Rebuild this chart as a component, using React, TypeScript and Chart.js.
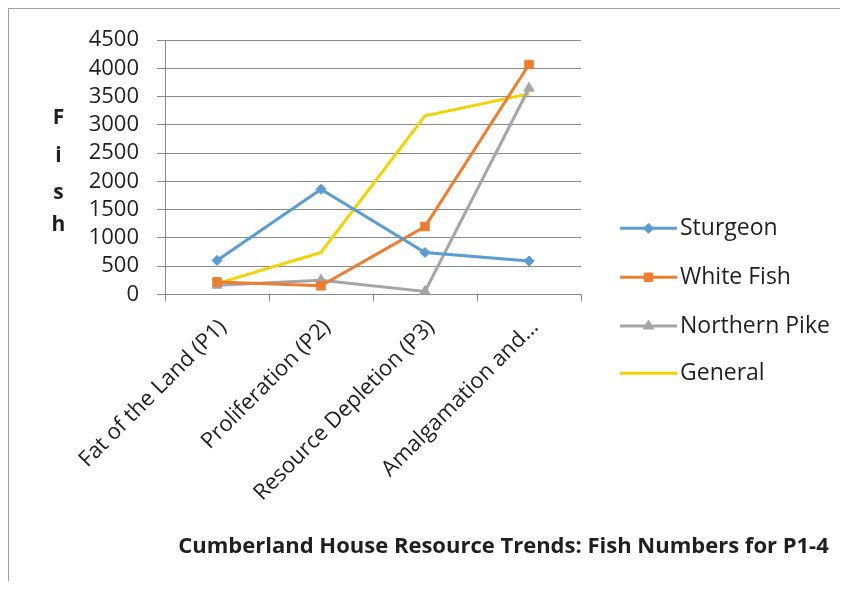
import React, { useEffect, useRef } from "react";
import { Chart, registerables } from "chart.js";
import { drawPoint } from "chart.js/helpers";

Chart.register(...registerables);

const categories = [
  "Fat of the Land (P1)",
  "Proliferation (P2)",
  "Resource Depletion (P3)",
  "Amalgamation and...",
];
const sturgeon = [600, 1860, 740, 590];
const whiteFish = [220, 150, 1200, 4070];
const northernPike = [160, 250, 50, 3650];
const general = [190, 740, 3160, 3550];
const seriesNames = ["Sturgeon", "White Fish", "Northern Pike", "General"];
const yTitleLetters = ["F", "i", "s", "h"];
const chartTitle = "Cumberland House Resource Trends: Fish Numbers for P1-4";
const yMin = 0;
const yMax = 4500;
const yStep = 500;

const FONT = "'Open Sans', sans-serif";
const TEXT = "#1f1f1f";
const GRID = "#8a8a8a";
const colors = ["#5B9BD5", "#ED7D31", "#A5A5A5", "#F2D200"];
const pointStyles: any[] = ["rectRot", "rect", "triangle", false];
const pointRadii = [5, 6, 6, 0];

const overlayPlugin = {
  id: "overlay",
  afterDraw(chart: any) {
    const ctx = chart.ctx;
    const area = chart.chartArea;
    ctx.save();
    // vertical stacked y-axis title
    ctx.fillStyle = TEXT;
    ctx.font = `bold 21px ${FONT}`;
    ctx.textAlign = "center";
    ctx.textBaseline = "alphabetic";
    const letterOffsets = [84, 121.6, 159, 190.6];
    yTitleLetters.forEach((ch, i) => {
      ctx.fillText(ch, 49.5, area.top + letterOffsets[i]);
    });

    // legend
    const x0 = area.right + 39;
    const x1 = x0 + 57;
    const ys = [219.3, 268.3, 317, 364.3];
    chart.data.datasets.forEach((ds: any, i: number) => {
      const y = ys[i];
      ctx.strokeStyle = ds.borderColor;
      ctx.lineWidth = 3;
      ctx.beginPath();
      ctx.moveTo(x0, y);
      ctx.lineTo(x1, y);
      ctx.stroke();
      if (ds.pointStyle) {
        ctx.fillStyle = ds.borderColor;
        ctx.strokeStyle = ds.borderColor;
        ctx.lineWidth = 1;
        drawPoint(
          ctx,
          { pointStyle: ds.pointStyle, radius: ds.pointRadius, borderWidth: 1, rotation: 0 } as any,
          (x0 + x1) / 2,
          y
        );
      }
      ctx.fillStyle = TEXT;
      ctx.font = `23px ${FONT}`;
      ctx.textAlign = "left";
      ctx.textBaseline = "middle";
      ctx.fillText(ds.label, x1 + 3, y);
    });

    // chart title
    ctx.fillStyle = TEXT;
    ctx.font = `bold 22px ${FONT}`;
    ctx.textAlign = "center";
    ctx.textBaseline = "alphabetic";
    ctx.fillText(chartTitle, 494.5, 544.3);
    ctx.restore();
  },
};

export default function App() {
  const ref = useRef<HTMLCanvasElement | null>(null);
  useEffect(() => {
    if (!ref.current) return;
    const seriesData = [sturgeon, whiteFish, northernPike, general];
    const chart = new Chart(ref.current, {
      type: "line",
      data: {
        labels: categories,
        datasets: seriesData.map((d, i) => ({
          label: seriesNames[i],
          data: d,
          borderColor: colors[i],
          backgroundColor: colors[i],
          borderWidth: 3,
          tension: 0,
          pointStyle: pointStyles[i],
          pointRadius: pointRadii[i],
          pointBorderWidth: 1,
          pointBackgroundColor: colors[i],
          pointBorderColor: colors[i],
        })),
      },
      options: {
        responsive: false,
        animation: false,
        devicePixelRatio: 1,
        layout: { padding: { left: 0, top: 28.7, right: 267, bottom: 23.7 } },
        plugins: {
          legend: { display: false },
          title: { display: false },
          tooltip: { enabled: false },
        },
        scales: {
          x: {
            type: "category",
            offset: true,
            grid: {
              offset: true,
              drawOnChartArea: false,
              drawTicks: true,
              tickLength: 7,
              color: GRID,
            },
            border: { color: GRID, width: 1 },
            ticks: {
              autoSkip: false,
              minRotation: 45,
              maxRotation: 45,
              font: { family: FONT, size: 22 },
              color: TEXT,
              padding: 13,
              labelOffset: 6,
            },
            afterFit: (s: any) => {
              s.height = 270;
            },
          },
          y: {
            min: yMin,
            max: yMax,
            ticks: {
              stepSize: yStep,
              autoSkip: false,
              font: { family: FONT, size: 22 },
              color: TEXT,
              padding: 18,
              callback: (v: any) => String(v),
            },
            grid: { color: GRID, tickLength: 8 },
            border: { color: GRID, width: 1 },
            afterFit: (s: any) => {
              s.width = 156;
            },
          },
        },
      },
      plugins: [overlayPlugin],
    });
    return () => chart.destroy();
  }, []);

  return (
    <div
      style={{
        width: 840,
        height: 581,
        boxSizing: "border-box",
        borderLeft: "1px solid #a0a0a0",
        borderTop: "1px solid #a0a0a0",
        borderBottom: "1px solid #a0a0a0",
        marginBottom: -8,
        background: "#fff",
      }}
    >
      <canvas ref={ref} width={839} height={579} style={{ display: "block" }} />
    </div>
  );
}
